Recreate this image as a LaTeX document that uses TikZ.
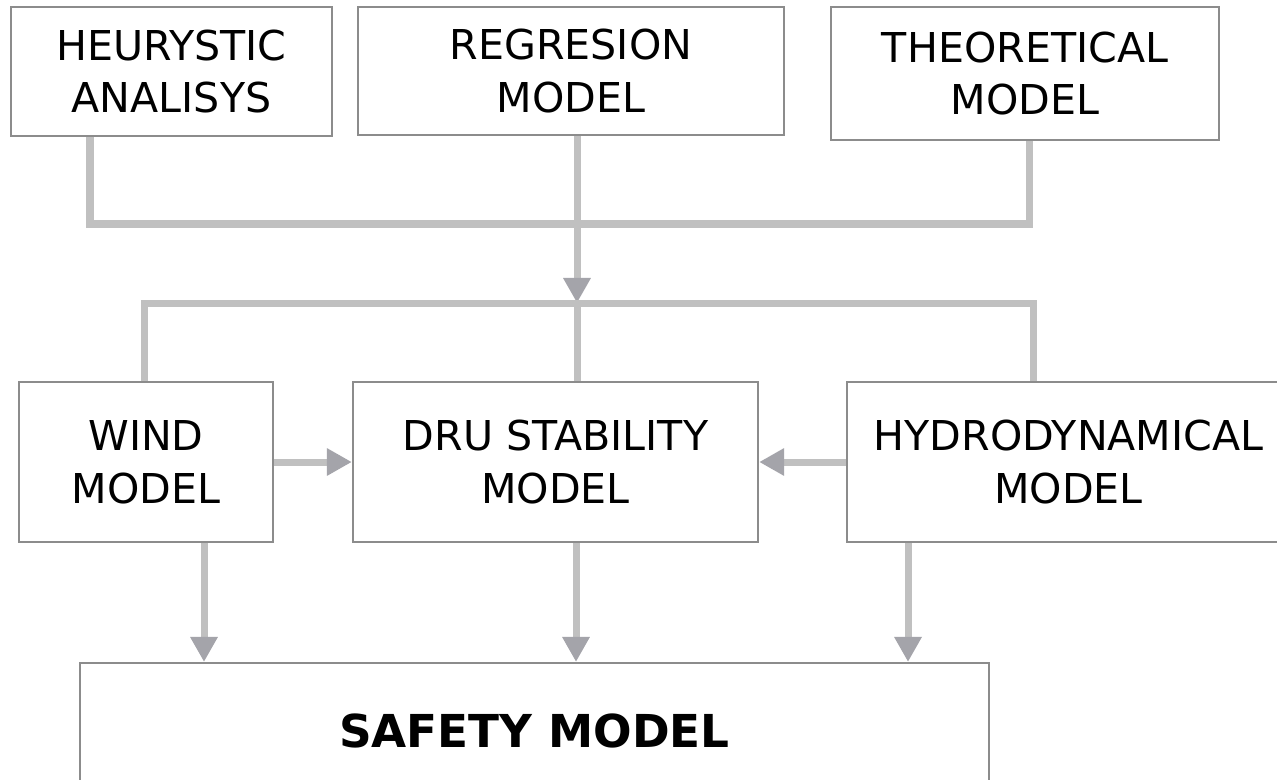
\documentclass[tikz,border=0pt]{standalone}
\usepackage{fontspec}
\setmainfont{DejaVu Sans}
\usetikzlibrary{arrows.meta}
\definecolor{boxgray}{HTML}{8C8C8C}
\definecolor{linegray}{HTML}{C0C0C0}
\definecolor{tipgray}{HTML}{A4A4AA}

\begin{document}
\begin{tikzpicture}[x=0.01cm, y=-0.01cm,
    main/.style = {draw=boxgray, line width=0.6pt, fill=white, align=center, inner sep=0pt,
                   font=\fontsize{11.7}{15}\selectfont},
    link/.style = {draw=linegray, line width=0.07cm},
    arr/.style = {link, -{Triangle[length=0.25cm, width=0.26cm, color=tipgray]}}]
      \clip (0,0) rectangle (1277,779);
      \fill[white] (0,0) rectangle (1277,779);
      \node[main, minimum width=3.21cm, minimum height=1.29cm] (heur) at (171.5,71.5) {HEURYSTIC\\ANALISYS};
      \node[main, minimum width=4.26cm, minimum height=1.28cm] (regr) at (571,71) {REGRESION\\MODEL};
      \node[main, minimum width=3.88cm, minimum height=1.33cm] (theo) at (1025,73.5) {THEORETICAL\\MODEL};
      \node[main, minimum width=2.54cm, minimum height=1.60cm] (wind) at (146,462) {WIND\\MODEL};
      \node[main, minimum width=4.05cm, minimum height=1.60cm] (dru) at (555.5,462) {DRU STABILITY\\MODEL};
      \node[main, minimum width=4.43cm, minimum height=1.60cm] (hydro) at (1068.5,462) {HYDRODYNAMICAL\\MODEL};
      \node[main, minimum width=9.09cm, minimum height=1.36cm, font=\fontsize{12.9}{15}\selectfont\bfseries] (safety) at (534.5,731) {SAFETY MODEL};
      \coordinate (top) at (577,224);
      \coordinate (mid) at (577,303);
      \draw[link] (heur.south -| 90,0) |- (top) -| (theo.south -| 1029,0);
      \draw[link] (regr.south -| top) -- (top);
      \draw[arr] (top) -- (mid);
      \draw[link] (wind.north -| 144,0) |- (mid) -| (hydro.north -| 1033,0);
      \draw[link] (mid) -- (dru.north -| mid);
      \draw[arr] (wind.east) -- (dru.west);
      \draw[arr] (hydro.west) -- (dru.east);
      \draw[arr] (wind.south -| 204,0) -- (safety.north -| 204,0);
      \draw[arr] (dru.south -| 576,0) -- (safety.north -| 576,0);
      \draw[arr] (hydro.south -| 908,0) -- (safety.north -| 908,0);
    \end{tikzpicture}
\end{document}
